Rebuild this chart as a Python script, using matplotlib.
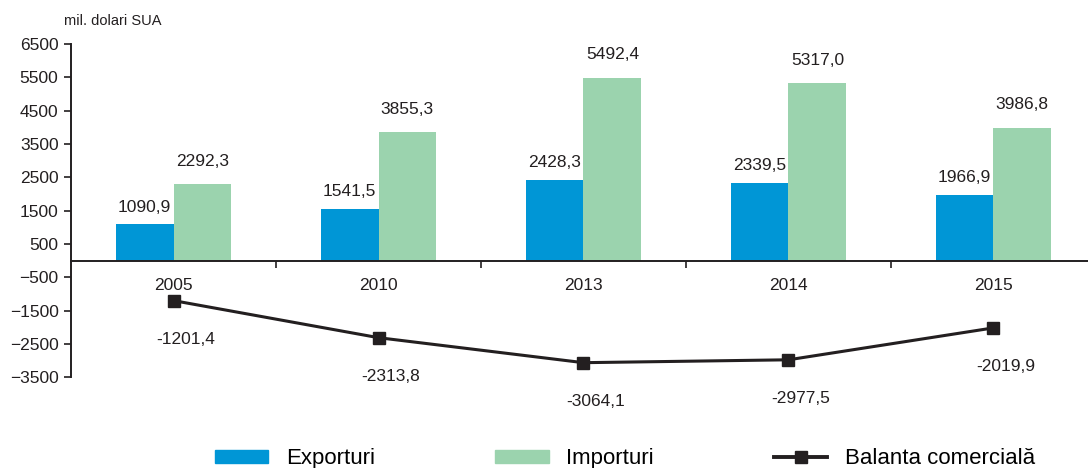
import matplotlib.pyplot as plt
import numpy as np
from matplotlib.patches import Patch
from matplotlib.lines import Line2D

plt.rcParams["font.family"] = ["Liberation Sans", "DejaVu Sans"]

years = ["2005", "2010", "2013", "2014", "2015"]
exports = [1090.9, 1541.5, 2428.3, 2339.5, 1966.9]
imports = [2292.3, 3855.3, 5492.4, 5317.0, 3986.8]
balance = [-1201.4, -2313.8, -3064.1, -2977.5, -2019.9]

c_exp = "#0096d6"
c_imp = "#9bd3ae"
c_txt = "#231f20"


def fmt(v):
    return f"{v:.1f}".replace(".", ",")


fig = plt.figure(figsize=(10.88, 4.68), dpi=100)
ax = fig.add_axes([0.0653, 0.194, 0.942, 0.712])

x = np.arange(len(years))
w = 0.282
ax.bar(x - w / 2, exports, w, color=c_exp)
ax.bar(x + w / 2, imports, w, color=c_imp)
ax.plot(x, balance, color=c_txt, lw=2.2, marker="s", ms=8.5, zorder=4)

for i in range(len(years)):
    ax.annotate(fmt(exports[i]), (x[i] - w / 2, exports[i]), xytext=(0, 7),
                textcoords="offset points", ha="center", va="bottom", fontsize=12.5, color=c_txt)
    ax.annotate(fmt(imports[i]), (x[i] + w / 2, imports[i]), xytext=(0, 11),
                textcoords="offset points", ha="center", va="bottom", fontsize=12.5, color=c_txt)
    ax.annotate(fmt(balance[i]), (x[i], balance[i]), xytext=(9, -28),
                textcoords="offset points", ha="center", va="center", fontsize=12.5, color=c_txt)
    ax.annotate(years[i], (x[i], 0), xytext=(0, -18),
                textcoords="offset points", ha="center", va="center", fontsize=12.5, color=c_txt)

ax.set_xlim(-0.5, 4.5)
ax.set_ylim(-3500, 6500)
ax.set_yticks(np.arange(-3500, 6501, 1000))
ax.tick_params(axis="y", labelsize=12.5, length=5, width=1.2, colors=c_txt, pad=4)
ax.set_xticks(np.arange(0.5, 4.5, 1))
ax.set_xticklabels([])
ax.tick_params(axis="x", direction="out", length=5, width=1.2, colors=c_txt)
ax.spines["bottom"].set_position(("data", 0))
ax.spines["top"].set_visible(False)
ax.spines["right"].set_visible(False)
for s in ["left", "bottom"]:
    ax.spines[s].set_linewidth(1.4)
    ax.spines[s].set_color(c_txt)

fig.text(0.059, 0.955, "mil. dolari SUA", fontsize=10.5, color=c_txt, va="center")

handles = [Patch(color=c_exp), Patch(color=c_imp),
           Line2D([], [], color=c_txt, lw=2.8, marker="s", ms=8)]
labels = ["Exporturi", "Importuri", "Balanta comercială"]
fig.legend(handles, labels, loc="center left", bbox_to_anchor=(0.1875, 0.02), ncol=3, frameon=False,
           fontsize=16, borderpad=0, handlelength=2.4, handleheight=0.55,
           columnspacing=5.4, handletextpad=0.8)

fig.savefig("out.png", dpi=100)
